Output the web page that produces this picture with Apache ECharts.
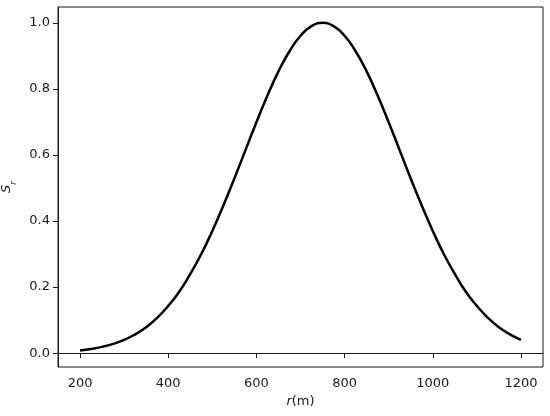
<!DOCTYPE html>
<html>
<head>
<meta charset="utf-8">
<script src="https://cdn.jsdelivr.net/npm/echarts@6/dist/echarts.min.js"></script>
<style>html,body{margin:0;padding:0;background:#fff;}#c{width:550px;height:416px;}</style>
</head>
<body>
<div id="c"></div>
<script>
var rValues = [200,225,250,275,300,325,350,375,400,425,450,475,500,525,550,575,600,625,650,675,700,725,750,775,800,825,850,875,900,925,950,975,1000,1025,1050,1075,1100,1125,1150,1175,1200];
var srValues = [0.008,0.0125,0.019,0.028,0.040,0.057,0.078,0.107,0.143,0.186,0.240,0.300,0.370,0.447,0.529,0.614,0.699,0.780,0.853,0.914,0.961,0.990,1.000,0.990,0.961,0.914,0.853,0.780,0.699,0.614,0.529,0.447,0.370,0.300,0.240,0.186,0.143,0.107,0.078,0.057,0.040];
var xTicks = [200,400,600,800,1000,1200];
var yTicks = [0.0,0.2,0.4,0.6,0.8,1.0];

var chart = echarts.init(document.getElementById('c'));
var data = rValues.map(function(r,i){return [r, srValues[i]];});
var font = 'DejaVu Sans';
var tc = '#1a1a1a';
chart.setOption({
  animation: false,
  grid: {left: 58, right: 7, top: 7, bottom: 49, show: true, borderColor: tc, borderWidth: 1, containLabel: false, outerBoundsMode: 'none'},
  xAxis: {
    type: 'value', min: 150, max: 1250,
    name: '{i|r}{n|(m)}', nameLocation: 'middle', nameGap: 26,
    nameTextStyle: {rich: {i: {fontFamily: font, fontStyle: 'italic', fontSize: 13, color: tc}, n: {fontFamily: font, fontSize: 13, color: tc}}},
    axisLine: {show: true, lineStyle: {color: tc}},
    axisTick: {show: true, length: 5, customValues: xTicks, lineStyle: {color: tc}},
    axisLabel: {customValues: xTicks, fontFamily: font, fontSize: 13, color: tc, margin: 10, formatter: function(v){return String(v);}},
    splitLine: {show: false}
  },
  yAxis: {
    type: 'value', min: -0.042, max: 1.048,
    name: '{i|S}{s|r}', nameLocation: 'middle', nameGap: 34, nameRotate: 90,
    nameTextStyle: {rich: {i: {fontFamily: font, fontStyle: 'italic', fontSize: 13, color: tc, lineHeight: 18, verticalAlign: 'top'}, s: {fontFamily: font, fontStyle: 'italic', fontSize: 9, color: tc, lineHeight: 18, verticalAlign: 'bottom'}}},
    axisLine: {show: true, lineStyle: {color: tc}},
    axisTick: {show: true, length: 5, customValues: yTicks, lineStyle: {color: tc}},
    axisLabel: {customValues: yTicks, fontFamily: font, fontSize: 13, color: tc, margin: 8, formatter: function(v){return v.toFixed(1);}},
    splitLine: {show: false}
  },
  series: [{
    type: 'line', data: data, smooth: true, showSymbol: false,
    lineStyle: {color: '#000', width: 2.5}
  }]
});
</script>
</body>
</html>
